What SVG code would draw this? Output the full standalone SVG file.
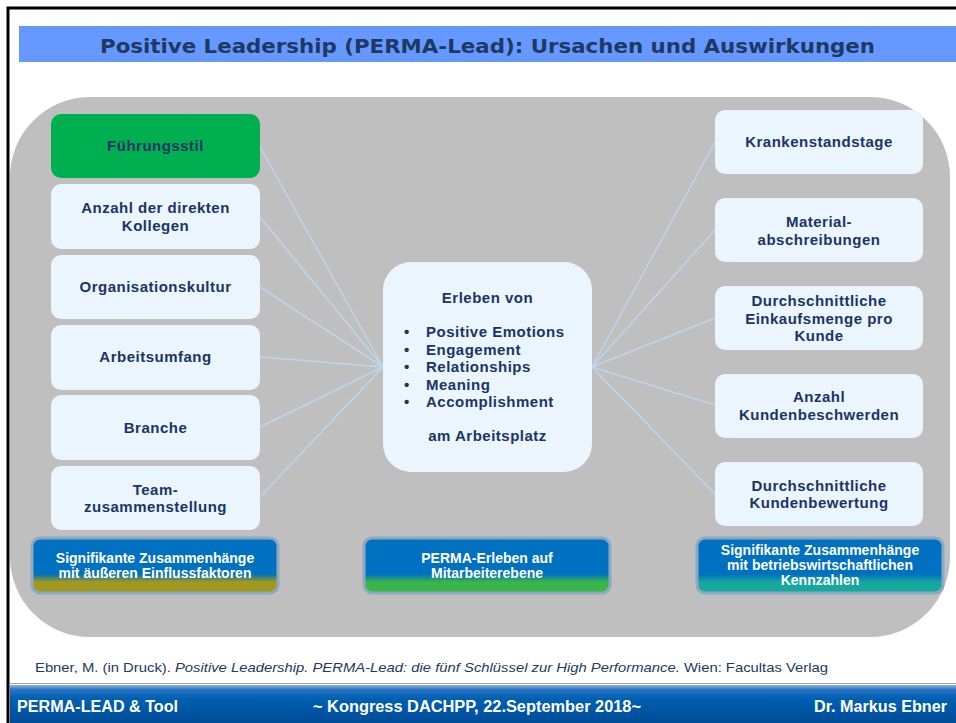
<svg xmlns="http://www.w3.org/2000/svg" width="956" height="723" viewBox="0 0 956 723">
<defs>
<linearGradient id="gOlive" x1="0" y1="0" x2="0" y2="1">
<stop offset="0" stop-color="#0070C0"/><stop offset="0.66" stop-color="#0070C0"/><stop offset="0.8" stop-color="#A0981F"/><stop offset="1" stop-color="#A0981F"/>
</linearGradient>
<linearGradient id="gGreen" x1="0" y1="0" x2="0" y2="1">
<stop offset="0" stop-color="#0070C0"/><stop offset="0.66" stop-color="#0070C0"/><stop offset="0.8" stop-color="#3AB54A"/><stop offset="1" stop-color="#3AB54A"/>
</linearGradient>
<linearGradient id="gTeal" x1="0" y1="0" x2="0" y2="1">
<stop offset="0" stop-color="#0070C0"/><stop offset="0.66" stop-color="#0070C0"/><stop offset="0.8" stop-color="#16A89C"/><stop offset="1" stop-color="#16A89C"/>
</linearGradient>
<linearGradient id="gFoot" x1="0" y1="0" x2="0" y2="1">
<stop offset="0" stop-color="#8FB3DE"/><stop offset="0.12" stop-color="#2A74C4"/><stop offset="0.35" stop-color="#0060B2"/><stop offset="1" stop-color="#004C98"/>
</linearGradient>
<style>
.box{fill:#EAF5FD;}
.t{font-family:"Liberation Sans",Arial,sans-serif;font-weight:bold;font-size:15px;fill:#1B3466;text-anchor:middle;letter-spacing:0.5px;}
.bt{font-family:"Liberation Sans",Arial,sans-serif;font-weight:bold;font-size:14px;fill:#FFFFFF;text-anchor:middle;}
.ban{stroke:#8EA8C3;stroke-width:3;}
.con line{stroke:#BDD7EE;stroke-width:1.5;}
.ft{font-family:"Liberation Sans",Arial,sans-serif;font-weight:bold;font-size:16px;fill:#FFFFFF;}
</style>
</defs>
<rect x="0" y="0" width="956" height="723" fill="#FFFFFF"/>
<path d="M8 723 V8 H956" fill="none" stroke="#000000" stroke-width="3"/>
<g id="title">
<rect x="19" y="26" width="937" height="36" fill="#6699FF"/>
<text x="487.5" y="53" font-family="DejaVu Sans, Verdana, sans-serif" font-weight="bold" font-size="19" fill="#1F3864" text-anchor="middle" textLength="775" lengthAdjust="spacingAndGlyphs">Positive Leadership (PERMA-Lead): Ursachen und Auswirkungen</text>
</g>
<rect id="panel" x="10" y="97" width="940" height="540" rx="80" fill="#BFBFBF"/>
<g class="con" id="connectors">
<line x1="260" y1="147" x2="383" y2="367"/>
<line x1="260" y1="217" x2="383" y2="367"/>
<line x1="260" y1="287" x2="383" y2="367"/>
<line x1="260" y1="357" x2="383" y2="367"/>
<line x1="260" y1="427" x2="383" y2="367"/>
<line x1="260" y1="497" x2="383" y2="367"/>
<line x1="592" y1="367" x2="715" y2="142"/>
<line x1="592" y1="367" x2="715" y2="230"/>
<line x1="592" y1="367" x2="715" y2="318"/>
<line x1="592" y1="367" x2="715" y2="405"/>
<line x1="592" y1="367" x2="715" y2="494"/>
</g>
<g id="fuehrungsstil"><rect x="51" y="114" width="209" height="64" rx="10" fill="#00B050"/><text class="t" x="155.5" y="151">Führungsstil</text></g>
<g id="anzahl-kollegen"><rect class="box" x="51" y="184" width="209" height="65" rx="10"/><text class="t" x="155.5" y="213">Anzahl der direkten</text><text class="t" x="155.5" y="230.5">Kollegen</text></g>
<g id="organisationskultur"><rect class="box" x="51" y="255" width="209" height="64" rx="10"/><text class="t" x="155.5" y="292">Organisationskultur</text></g>
<g id="arbeitsumfang"><rect class="box" x="51" y="325" width="209" height="65" rx="10"/><text class="t" x="155.5" y="362">Arbeitsumfang</text></g>
<g id="branche"><rect class="box" x="51" y="395" width="209" height="65" rx="10"/><text class="t" x="155.5" y="432.5">Branche</text></g>
<g id="team"><rect class="box" x="51" y="466" width="209" height="64" rx="10"/><text class="t" x="155.5" y="494.5">Team-</text><text class="t" x="155.5" y="512">zusammenstellung</text></g>
<g id="center"><rect class="box" x="383" y="262" width="209" height="210" rx="28"/>
<text class="t" x="487.5" y="303">Erleben von</text>
<g font-family="Liberation Sans, Arial, sans-serif" font-weight="bold" font-size="15" fill="#1B3466" letter-spacing="0.5">
<text x="404" y="337">•</text><text x="426" y="337">Positive Emotions</text>
<text x="404" y="354.5">•</text><text x="426" y="354.5">Engagement</text>
<text x="404" y="372">•</text><text x="426" y="372">Relationships</text>
<text x="404" y="389.5">•</text><text x="426" y="389.5">Meaning</text>
<text x="404" y="407">•</text><text x="426" y="407">Accomplishment</text>
</g>
<text class="t" x="487.5" y="441">am Arbeitsplatz</text></g>
<g id="krankenstandstage"><rect class="box" x="715" y="110" width="208" height="64" rx="10"/><text class="t" x="819" y="147">Krankenstandstage</text></g>
<g id="materialabschreibungen"><rect class="box" x="715" y="198" width="208" height="64" rx="10"/><text class="t" x="819" y="227">Material-</text><text class="t" x="819" y="244.5">abschreibungen</text></g>
<g id="einkaufsmenge"><rect class="box" x="715" y="286" width="208" height="64" rx="10"/><text class="t" x="819" y="306">Durchschnittliche</text><text class="t" x="819" y="323.5">Einkaufsmenge pro</text><text class="t" x="819" y="341">Kunde</text></g>
<g id="kundenbeschwerden"><rect class="box" x="715" y="374" width="208" height="64" rx="10"/><text class="t" x="819" y="402">Anzahl</text><text class="t" x="819" y="419.5">Kundenbeschwerden</text></g>
<g id="kundenbewertung"><rect class="box" x="715" y="462" width="208" height="64" rx="10"/><text class="t" x="819" y="490.5">Durchschnittliche</text><text class="t" x="819" y="508">Kundenbewertung</text></g>
<g id="banner-left"><rect class="ban" x="32" y="538" width="246" height="55" rx="8" fill="url(#gOlive)"/><text class="bt" x="155" y="562.5">Signifikante Zusammenhänge</text><text class="bt" x="155" y="577.5">mit äußeren Einflussfaktoren</text></g>
<g id="banner-mid"><rect class="ban" x="364" y="538" width="246" height="55" rx="8" fill="url(#gGreen)"/><text class="bt" x="487" y="562.5" font-size="13.5">PERMA-Erleben auf</text><text class="bt" x="487" y="577.5" font-size="13.5">Mitarbeiterebene</text></g>
<g id="banner-right"><rect class="ban" x="697" y="538" width="246" height="55" rx="8" fill="url(#gTeal)"/><text class="bt" x="820" y="555">Signifikante Zusammenhänge</text><text class="bt" x="820" y="570">mit betriebswirtschaftlichen</text><text class="bt" x="820" y="585">Kennzahlen</text></g>
<text id="citation" x="35" y="672" font-family="Liberation Sans, Arial, sans-serif" font-size="13" fill="#1F3864" textLength="793" lengthAdjust="spacingAndGlyphs">Ebner, M. (in Druck). <tspan font-style="italic">Positive Leadership. PERMA-Lead: die fünf Schlüssel zur High Performance.</tspan> Wien: Facultas Verlag</text>
<line x1="10" y1="683.5" x2="956" y2="683.5" stroke="#A6A6A6" stroke-width="1"/>
<g id="footer">
<rect x="10" y="685" width="946" height="38" fill="url(#gFoot)"/>
<text class="ft" x="17" y="712" textLength="161" lengthAdjust="spacingAndGlyphs">PERMA-LEAD &amp; Tool</text>
<text class="ft" x="313" y="712" textLength="328" lengthAdjust="spacingAndGlyphs">~ Kongress DACHPP, 22.September 2018~</text>
<text class="ft" x="814" y="712" textLength="133" lengthAdjust="spacingAndGlyphs">Dr. Markus Ebner</text>
</g>
</svg>
